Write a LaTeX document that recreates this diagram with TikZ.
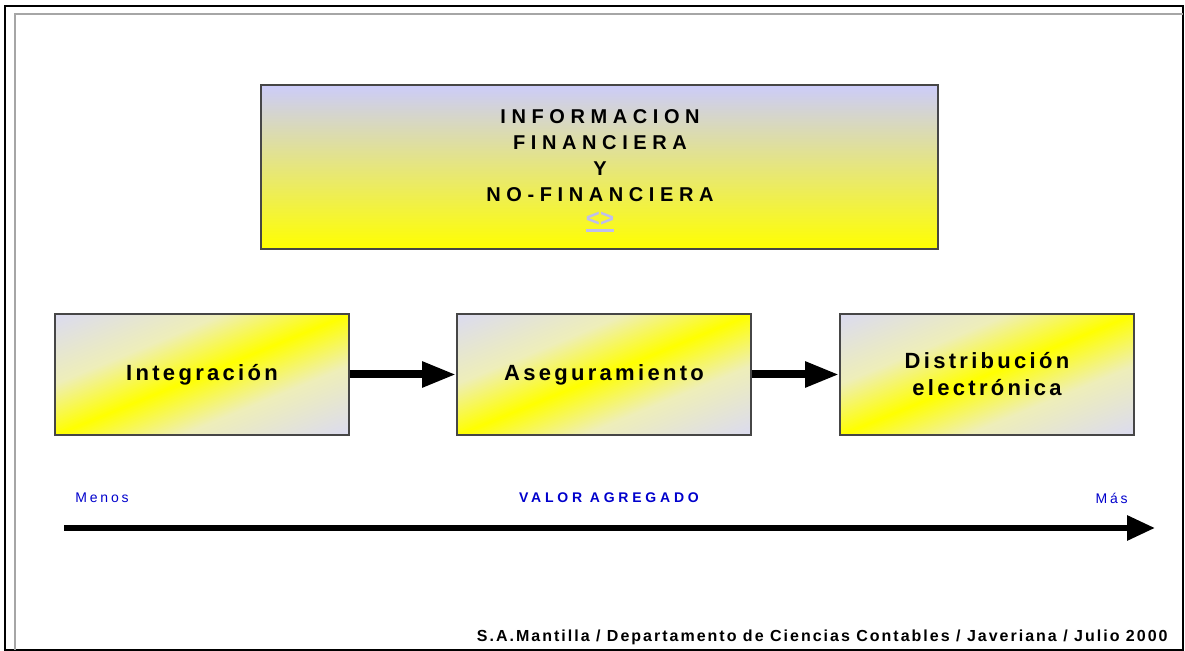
\documentclass[tikz,border=0pt]{standalone}
\usepackage{fontspec}
\setmainfont{Liberation Sans}
\usetikzlibrary{arrows.meta}

\definecolor{lavanda}{RGB}{204,204,250}
\definecolor{lavclaro}{RGB}{216,216,248}
\definecolor{gris}{RGB}{238,238,185}
\definecolor{amarillo}{RGB}{255,255,0}
\definecolor{enlace}{RGB}{190,190,238}
\definecolor{azul}{RGB}{0,0,204}
\definecolor{borde}{RGB}{70,70,70}

\pgfdeclareverticalshading{franja}{100bp}{color(0bp)=(lavclaro); color(14.6bp)=(lavclaro);
  color(36bp)=(gris); color(50bp)=(amarillo); color(64bp)=(gris);
  color(85.4bp)=(lavclaro); color(100bp)=(lavclaro)}

\tikzset{
  caja/.style={rectangle, draw=borde, line width=0.8pt,
    minimum width=147pt, minimum height=60.5pt, inner sep=0pt,
    shading=franja, shading angle=22.4, align=center,
    font=\fontsize{11}{13.5}\selectfont\bfseries\addfontfeatures{LetterSpace=15}},
  titulo/.style={rectangle, draw=borde, line width=0.8pt,
    minimum width=338.5pt, minimum height=82pt, inner sep=0pt,
    top color=lavanda, bottom color=amarillo},
  flecha/.style={line width=4pt, -{Triangle[length=17pt,width=12pt]}},
  escala/.style={line width=3pt, -{Triangle[length=14pt,width=12pt]}},
  etiqueta/.style={text=azul, inner sep=0pt,
    font=\fontsize{7}{8}\selectfont\addfontfeatures{LetterSpace=20}}
}

\begin{document}
\begin{tikzpicture}[x=0.5pt, y=-0.5pt]

\useasboundingbox (0,0) rectangle (1185,651);

% marco
\draw[line width=1pt] (5,6) rectangle (1183,650);
\draw[gray!70, line width=1pt] (15,650) -- (15,14) -- (1183,14);

% recuadro superior
\draw (599.5,167) node (info) [titulo] {} ;
\draw (600,156) node (infotxt) [align=center, inner sep=0pt,
  font=\fontsize{10}{13}\selectfont\bfseries\addfontfeatures{LetterSpace=28}]
  {INFORMACION\\ FINANCIERA\\ Y\\ NO-FINANCIERA};
\draw (600,219) node (enlace) [inner sep=0pt, text=enlace,
  font=\fontsize{12}{13}\selectfont\bfseries] {<>};
\draw[enlace, line width=1.3pt] ([yshift=-2pt]enlace.south west) -- ([yshift=-2pt]enlace.south east);

% etapas
\draw (202,374.5)   node (integ) [caja] {Integración} ;
\draw (604,374.5)   node (aseg)  [caja] {Aseguramiento} ;
\draw (987,374.5)   node (distr) [caja] {Distribución\\ electrónica} ;

\draw[flecha] (integ.east) -- (aseg.west);
\draw[flecha] (aseg.east) -- (distr.west);

% valor agregado
\coordinate (menos) at (64,528);
\coordinate (mas)   at (1155,528);
\draw[escala] (menos) -- (mas);

\draw (75,498)   node (lmenos) [etiqueta, anchor=west] {Menos} ;
\draw (609,498)  node (lvalor) [etiqueta, font=\fontsize{7}{8}\selectfont\bfseries\addfontfeatures{LetterSpace=27}] {VALOR AGREGADO} ;
\draw (1128,498) node (lmas)   [etiqueta, anchor=east] {Más} ;

% pie
\draw (1168,637) node (pie) [anchor=east, inner sep=0pt,
  font=\fontsize{8}{9}\selectfont\bfseries\addfontfeatures{LetterSpace=12.5}]
  {S.A.Mantilla / Departamento de Ciencias Contables / Javeriana / Julio 2000} ;

\end{tikzpicture}
\end{document}
